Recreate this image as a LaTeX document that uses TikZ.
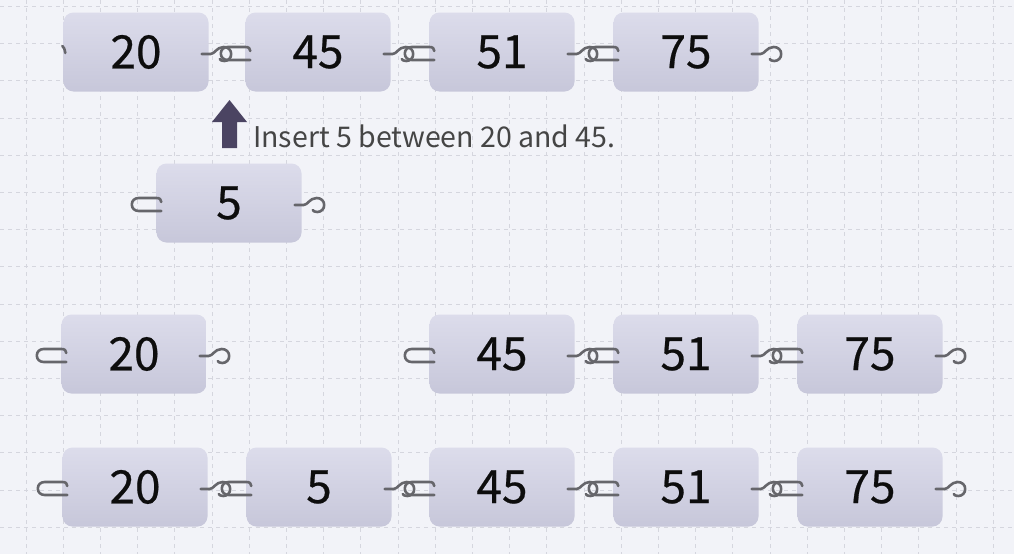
\documentclass[tikz,border=0pt]{standalone}
\usepackage{fontspec}
\setmainfont{Noto Sans CJK SC}
\newfontfamily\numfont[FakeBold=0.5]{Noto Sans CJK SC}
\definecolor{bgc}{HTML}{F2F3F8}
\definecolor{gridc}{HTML}{D5D6DE}
\definecolor{nodetop}{HTML}{DCDCEB}
\definecolor{nodebot}{HTML}{C7C7DA}
\definecolor{linkc}{HTML}{66666B}
\definecolor{arrowc}{HTML}{4B4462}
\definecolor{labelc}{HTML}{454545}
\tikzset{
  lnode/.style={rounded corners=10pt, minimum width=145pt, minimum height=79pt,
    top color=nodetop, bottom color=nodebot, draw=none, inner sep=0pt,
    font=\numfont\fontsize{46}{46}\selectfont, text=black!95},
  link/.style={draw=linkc, line width=2.6pt, line cap=round, line join=round},
  gridline/.style={draw=gridc, line width=0.9pt, dash pattern=on 4pt off 4pt},
}
\newcommand{\myrighthook}[1]{%
  \begin{scope}[shift={(#1.east)}]
    \draw[link] (-7,2) -- (2,2) .. controls (6,2) and (8,-5) .. (15,-5)
      .. controls (19.5,-5) and (22.5,-2) .. (22.5,2) .. controls (22.5,6) and (19.5,9) .. (15.5,9)
      .. controls (13,9) and (11.5,8) .. (11,7);
  \end{scope}}
\newcommand{\myleftloop}[1]{%
  \begin{scope}[shift={(#1.west)}]
    \draw[link] (5,-1) .. controls (5,-3.5) and (3.5,-5) .. (0,-5) -- (-17.5,-5)
      .. controls (-21.5,-5) and (-24.5,-2.5) .. (-24.5,1.5) .. controls (-24.5,5.5) and (-21.5,8) .. (-17.5,8)
      -- (5,8);
  \end{scope}}
\begin{document}
\begin{tikzpicture}[x=1pt,y=-1pt]
  \fill[bgc] (0,0) rectangle (1014,554);
  \useasboundingbox (0,0) rectangle (1014,554);
  \foreach \i in {0,...,26} \draw[gridline] (26+37.2*\i,0) -- (26+37.2*\i,554);
  \foreach \j in {0,...,14} \draw[gridline] (0,6.5+37.2*\j) -- (1014,6.5+37.2*\j);

  % row 1
  \node[lnode] (a1) at (136,52) {20};
  \node[lnode] (a2) at (318,52) {45};
  \node[lnode] (a3) at (502,52) {51};
  \node[lnode] (a4) at (686,52) {75};
  % row 2
  \node[lnode] (b1) at (229,203) {5};
  % row 3
  \node[lnode] (c1) at (134,354) {20};
  \node[lnode] (c2) at (502,354) {45};
  \node[lnode] (c3) at (686,354) {51};
  \node[lnode] (c4) at (870,354) {75};
  % row 4
  \node[lnode] (d1) at (135,487) {20};
  \node[lnode] (d2) at (319,487) {5};
  \node[lnode] (d3) at (502,487) {45};
  \node[lnode] (d4) at (686,487) {51};
  \node[lnode] (d5) at (870,487) {75};

  % links row 1
  \draw[link] ([xshift=-1pt,yshift=6pt]a1.west) .. controls ([xshift=1pt,yshift=4pt]a1.west) .. ([xshift=2pt,yshift=-1pt]a1.west);
  \myrighthook{a1}\myleftloop{a2}\myrighthook{a2}\myleftloop{a3}\myrighthook{a3}\myleftloop{a4}\myrighthook{a4}
  % row 2
  \myleftloop{b1}\myrighthook{b1}
  % row 3
  \myleftloop{c1}\myrighthook{c1}\myleftloop{c2}\myrighthook{c2}\myleftloop{c3}\myrighthook{c3}\myleftloop{c4}\myrighthook{c4}
  % row 4
  \myleftloop{d1}\myrighthook{d1}\myleftloop{d2}\myrighthook{d2}\myleftloop{d3}\myrighthook{d3}\myleftloop{d4}\myrighthook{d4}\myleftloop{d5}\myrighthook{d5}

  % arrow and label
  \fill[arrowc] (222,148) -- (222,122) -- (212,122) -- (229.5,100) -- (247,122) -- (237,122) -- (237,148) -- cycle;
  \node[anchor=base west, inner sep=0pt, text=labelc, font=\fontsize{28.5}{28.5}\selectfont] (lab) at (253,147) {Insert 5 between 20 and 45.};
\end{tikzpicture}
\end{document}
